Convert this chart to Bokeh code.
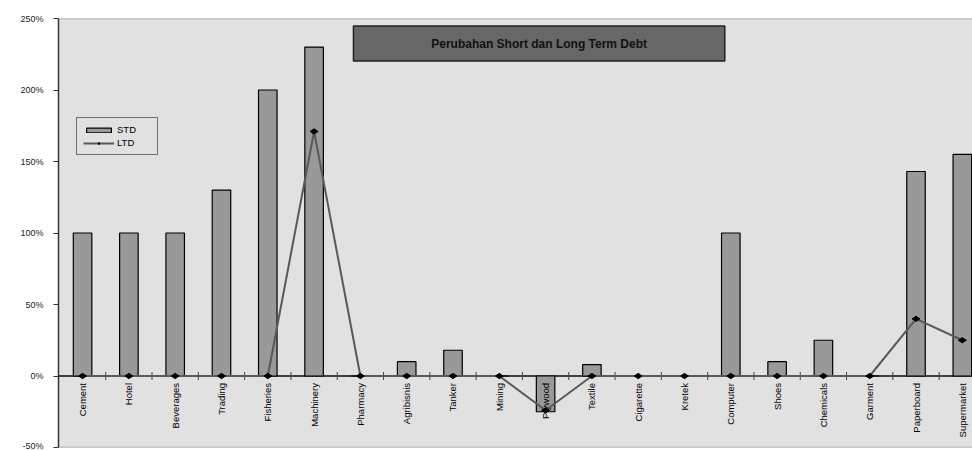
import numpy as np
from bokeh.plotting import figure
from bokeh.models import (Range1d, FixedTicker, Span, Label, BoxAnnotation,
                          Legend, LegendItem, ColumnDataSource)
from bokeh.embed import file_html
from bokeh.resources import INLINE
from bokeh.core.properties import value

# --- data -------------------------------------------------------------
categories = ["Cement", "Hotel", "Beverages", "Trading", "Fisheries",
              "Machinery", "Pharmacy", "Agribisnis", "Tanker", "Mining",
              "Plywood", "Textile", "Cigarette", "Kretek", "Computer",
              "Shoes", "Chemicals", "Garment", "Paperboard", "Supermarket"]
std = [100, 100, 100, 130, 200, 230, 0, 10, 18, 0,
       -25, 8, 0, 0, 100, 10, 25, 0, 143, 155]
ltd = [0, 0, 0, 0, 0, 171, 0, 0, 0, 0,
       -24, 0, 0, 0, 0, 0, 0, 0, 40, 25]
y_ticks = [-50, 0, 50, 100, 150, 200, 250]
y_tick_labels = ["-50%", "0%", "50%", "100%", "150%", "200%", "250%"]
title_text = "Perubahan Short dan Long Term Debt"

FONT = "Liberation Sans"

xs = list(range(len(categories)))
src = ColumnDataSource(dict(x=xs, cat=categories, std=std, ltd=ltd))

p = figure(width=972, height=450,
           x_range=Range1d(-0.52, 19.22), y_range=Range1d(-50, 250),
           x_axis_type=None, output_backend="svg", toolbar_location=None,
           min_border_left=58, min_border_right=0,
           min_border_top=18, min_border_bottom=3,
           background_fill_color="#e1e1e1", border_fill_color="white")
p.outline_line_color = None
p.ygrid.grid_line_color = None

# left value axis
ax = p.yaxis[0]
ax.ticker = FixedTicker(ticks=y_ticks)
ax.major_label_overrides = dict(zip(y_ticks, y_tick_labels))
ax.axis_line_color = "#333333"
ax.axis_line_width = 1.5
ax.major_tick_in = 0
ax.major_tick_out = 5
ax.major_tick_line_color = "#333333"
ax.minor_tick_line_color = None
ax.major_label_standoff = 10
ax.major_label_text_font = FONT
ax.major_label_text_font_size = "9px"
ax.major_label_text_color = "#222222"

# plot-area top and bottom borders, and the category axis at zero
for edge in (y_ticks[-1], y_ticks[0]):
    p.add_layout(Span(location=edge, dimension="width", level="underlay",
                      line_color="#a0a0a0", line_width=1.5))
p.add_layout(Span(location=0, dimension="width", level="underlay",
                  line_color="#404040", line_width=2))

# title box
p.add_layout(BoxAnnotation(left=5.85, right=13.87, bottom=220.3, top=244.8,
                           fill_color="#676767", fill_alpha=1.0,
                           line_color="#222222", line_width=1.5, line_alpha=1.0))
p.add_layout(Label(x=(5.85 + 13.87) / 2, y=232.5, text=title_text,
                   text_align="center", text_baseline="middle",
                   text_font=FONT, text_font_style="bold",
                   text_font_size="12px", text_color="#111111"))

# STD bars
bars = p.vbar(x="x", top="std", bottom=0, width=0.4, source=src,
              fill_color="#999999", line_color="black", line_width=1.2)

# category labels, hanging below the zero line
p.text(x="x", y=0, text="cat", source=src, angle=np.pi / 2,
       text_align="right", text_baseline="alphabetic", y_offset=7,
       text_font=value(FONT), text_font_size="9.5px", text_color="black")

# tick marks between categories on the zero line
bounds = np.arange(len(categories) - 1) + 0.5
p.scatter(x=bounds, y=np.zeros_like(bounds), marker="dash", angle=np.pi / 2,
          size=8, line_color="#404040", line_width=1)

# LTD line with diamond markers
line = p.line(x="x", y="ltd", source=src, line_color="#595959", line_width=2)
pts = p.scatter(x="x", y="ltd", source=src, marker="diamond", angle=np.pi / 2,
                size=8, fill_color="black", line_color="black")

legend = Legend(items=[LegendItem(label="STD", renderers=[bars]),
                       LegendItem(label="LTD", renderers=[line, pts])],
                location=(18, 292), margin=0, padding=6, spacing=2,
                glyph_width=31, glyph_height=6, label_height=10,
                label_standoff=3, label_width=34,
                label_text_font=FONT, label_text_font_size="9.5px",
                label_text_color="black",
                border_line_color="black", border_line_width=1,
                background_fill_color="#e1e1e1", background_fill_alpha=1.0)
p.add_layout(legend)

open("out.html", "w").write(file_html(p, INLINE))
